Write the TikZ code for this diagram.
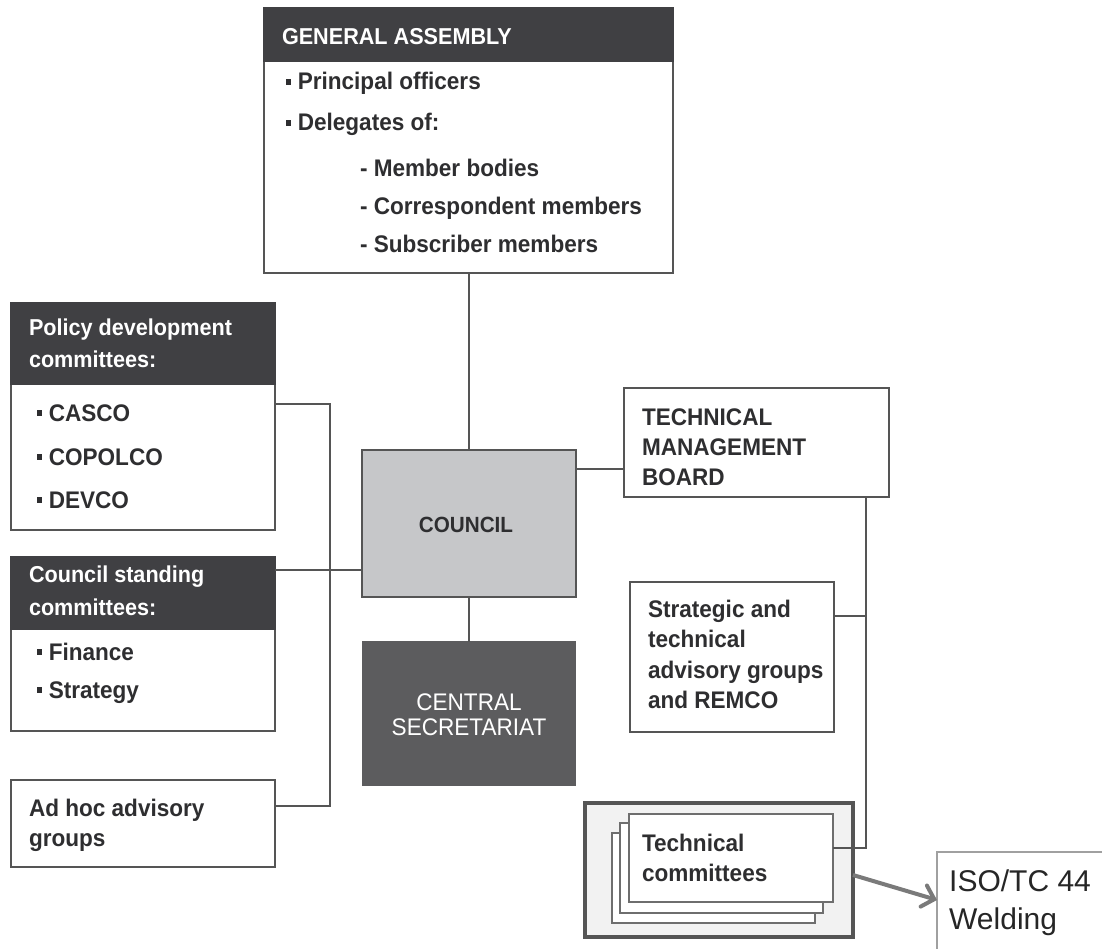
\documentclass[tikz,border=0pt]{standalone}
\usepackage{fontspec}
\setmainfont{Liberation Sans}[FakeStretch=0.94]
\newfontfamily\isofont{Liberation Sans}
\usetikzlibrary{arrows.meta}
\definecolor{linec}{HTML}{555555}
\definecolor{hdrc}{HTML}{404043}
\definecolor{txtc}{HTML}{2E2E30}
\definecolor{councilc}{HTML}{C6C7C9}
\definecolor{secc}{HTML}{5C5C5E}
\definecolor{tcbg}{HTML}{F2F2F2}
\definecolor{arrc}{HTML}{7A7A7A}
\definecolor{isoc}{HTML}{A0A0A0}
\newcommand\bul{\raisebox{0.22em}{\rule{0.22em}{0.22em}}\hspace{6.5pt}}
\begin{document}
\begin{tikzpicture}[x=1pt,y=-1pt,
  box/.style={draw=linec, line width=2pt, fill=white, inner sep=0pt, outer sep=0pt, anchor=north west},
  hdr/.style={box, fill=hdrc, draw=hdrc},
  stackbox/.style={box, draw=linec!85, line width=2.2pt},
  txt/.style={anchor=base west, inner sep=0pt, outer sep=0pt, text=txtc, font=\fontsize{24}{28}\selectfont\bfseries},
  htxt/.style={txt, text=white, font=\fontsize{23}{28}\selectfont\bfseries},
  ctxt/.style={anchor=base, inner sep=0pt, outer sep=0pt},
  isotxt/.style={anchor=base west, inner sep=0pt, text=black!85, font=\isofont\fontsize{30}{36}\selectfont},
  conn/.style={draw=linec, line width=2pt},
  arr/.style={draw=arrc, line width=4pt, -{Straight Barb[length=11pt, width=22pt, line cap=round]}}
]
\useasboundingbox (0,0) rectangle (1102,949);

% ---------- General Assembly ----------
\node[box, minimum width=409pt, minimum height=265pt] (ga) at (264,8) {};
\node[hdr, minimum width=409pt, minimum height=53pt] (gah) at (264,8) {};
\node[htxt] (gat) at (282,45) {GENERAL ASSEMBLY};
\node[txt] (ga1) at (286,90) {\bul Principal officers};
\node[txt] (ga2) at (286,131) {\bul Delegates of:};
\node[txt] (ga3) at (360,177) {- Member bodies};
\node[txt] (ga4) at (360,215) {- Correspondent members};
\node[txt] (ga5) at (360,253) {- Subscriber members};

% ---------- Policy development committees ----------
\node[box, minimum width=264pt, minimum height=227pt] (pdc) at (11,303) {};
\node[hdr, minimum width=264pt, minimum height=81pt] (pdch) at (11,303) {};
\node[htxt] (pdct1) at (29,335) {Policy development};
\node[htxt] (pdct2) at (29,367) {committees:};
\node[txt] (pdc1) at (37,421) {\bul CASCO};
\node[txt] (pdc2) at (37,465) {\bul COPOLCO};
\node[txt] (pdc3) at (37,508) {\bul DEVCO};

% ---------- Council standing committees ----------
\node[box, minimum width=264pt, minimum height=174pt] (stand) at (11,557) {};
\node[hdr, minimum width=264pt, minimum height=72pt] (standh) at (11,557) {};
\node[htxt] (standt1) at (29,582) {Council standing};
\node[htxt] (standt2) at (29,615) {committees:};
\node[txt] (stand1) at (37,660) {\bul Finance};
\node[txt] (stand2) at (37,698) {\bul Strategy};

% ---------- Ad hoc advisory groups ----------
\node[box, minimum width=264pt, minimum height=87pt] (adhoc) at (11,780) {};
\node[txt] (adhoc1) at (29,816) {Ad hoc advisory};
\node[txt] (adhoc2) at (29,846) {groups};

% ---------- Council ----------
\node[box, fill=councilc, minimum width=214pt, minimum height=147pt] (council) at (362,450) {};
\node[ctxt, text=txtc, font=\fontsize{22}{26}\selectfont\bfseries] (councilt) at (466,532) {COUNCIL};

% ---------- Central Secretariat ----------
\node[box, fill=secc, draw=secc, minimum width=212pt, minimum height=143pt] (cs) at (363,642) {};
\node[ctxt, text=white, font=\fontsize{24}{28}\selectfont] (cst1) at (469,710) {CENTRAL};
\node[ctxt, text=white, font=\fontsize{24}{28}\selectfont] (cst2) at (469,735) {SECRETARIAT};

% ---------- Technical Management Board ----------
\node[box, minimum width=265pt, minimum height=109pt] (tmb) at (624,388) {};
\node[txt] (tmb1) at (642,425) {TECHNICAL};
\node[txt] (tmb2) at (642,455) {MANAGEMENT};
\node[txt] (tmb3) at (642,485) {BOARD};

% ---------- Strategic and technical advisory groups ----------
\node[box, minimum width=204pt, minimum height=150pt] (strat) at (630,582) {};
\node[txt] (strat1) at (648,617) {Strategic and};
\node[txt] (strat2) at (648,647) {technical};
\node[txt] (strat3) at (648,678) {advisory groups};
\node[txt] (strat4) at (648,708) {and REMCO};

% ---------- Technical committees ----------
\node[box, fill=tcbg, line width=4pt, minimum width=268pt, minimum height=134pt] (tco) at (585,803) {};
\node[stackbox, minimum width=203pt, minimum height=90pt] (tcb) at (612,833) {};
\node[stackbox, minimum width=203pt, minimum height=90pt] (tcm) at (620,823) {};
\node[stackbox, minimum width=204pt, minimum height=88pt] (tcf) at (629,814) {};
\node[txt] (tc1) at (642,851) {Technical};
\node[txt] (tc2) at (642,881) {committees};

% ---------- ISO/TC 44 ----------
\begin{scope}
\clip (0,0) rectangle (1102,949);
\node[box, draw=isoc, line width=1.5pt, minimum width=200pt, minimum height=110pt] (iso) at (937,852) {};
\end{scope}
\node[isotxt] (iso1) at (949,891) {ISO/TC 44};
\node[isotxt] (iso2) at (949,929) {Welding};

% ---------- Connectors ----------
\coordinate (lb) at (330,0);
\coordinate (rb) at ([xshift=-23pt]tmb.south east);
\draw[conn] (ga.south -| council.north) -- (council.north);
\draw[conn] (council.south) -- (cs.north);
\draw[conn] ([yshift=-19pt]council.north east) -- ([yshift=-19pt]council.north east -| tmb.west);
\draw[conn] ([yshift=-101pt]pdc.north east) -| ([yshift=18pt]adhoc.east -| lb) -- ([yshift=18pt]adhoc.east);
\draw[conn] ([yshift=-13pt]stand.north east) -- ([yshift=-13pt]stand.north east -| council.west);
\draw[conn] (rb) |- ([yshift=10pt]tcf.east);
\draw[conn] ([yshift=41pt]strat.east) -- ([yshift=41pt]strat.east -| rb);
\draw[arr] ([yshift=-5pt]tco.east) -- ([yshift=7pt]iso.west);
\end{tikzpicture}
\end{document}
